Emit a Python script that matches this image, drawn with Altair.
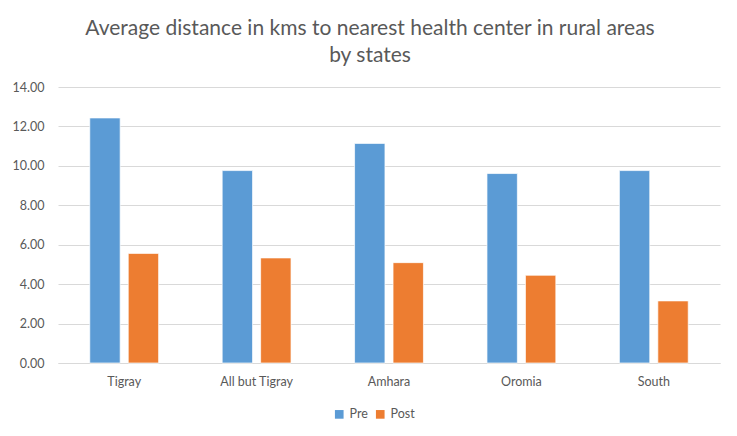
import altair as alt
import pandas as pd

states = ["Tigray", "All but Tigray", "Amhara", "Oromia", "South"]
pre = [12.43, 9.76, 11.14, 9.61, 9.76]
post = [5.56, 5.33, 5.09, 4.45, 3.15]
series = ["Pre", "Post"]
colors = ["#5B9BD5", "#ED7D31"]
y_ticks = [0, 2, 4, 6, 8, 10, 12, 14]

rows = []
for s, a, b in zip(states, pre, post):
    rows.append({"state": s, "period": "Pre", "value": a})
    rows.append({"state": s, "period": "Post", "value": b})
df = pd.DataFrame(rows)

W, H = 662, 276
FONT = "Lato"
GREY = "#595959"

bars = alt.Chart(df).mark_bar(stroke="white", strokeWidth=0.7).encode(
    x=alt.X("state:N", sort=states, title=None,
            scale=alt.Scale(paddingInner=0.48, paddingOuter=0.24),
            axis=alt.Axis(labelAngle=0, labelColor=GREY, labelFontSize=12.5, labelFont=FONT,
                          domain=True, domainColor="#d9d9d9", domainWidth=1.2, ticks=False, labelPadding=12)),
    xOffset=alt.XOffset("period:N", sort=series, scale=alt.Scale(paddingInner=0.21, paddingOuter=0)),
    y=alt.Y("value:Q", title=None,
            scale=alt.Scale(domain=[0, 14], nice=False),
            axis=alt.Axis(values=y_ticks, format=".2f", labelColor=GREY, labelFontSize=12.5, labelFont=FONT,
                          domain=False, ticks=False, labelPadding=14,
                          gridColor="#d9d9d9", gridWidth=1.2)),
    color=alt.Color("period:N", sort=series,
                    scale=alt.Scale(domain=series, range=colors),
                    legend=alt.Legend(title=None, orient="none", direction="horizontal",
                                      legendX=W / 2 - 56, legendY=H + 45,
                                      symbolType="square", symbolSize=75, symbolStrokeWidth=0,
                                      labelFont=FONT, labelFontSize=12.5, labelColor=GREY,
                                      columnPadding=6, labelOffset=4)),
).properties(
    width=W, height=H,
    autosize=alt.AutoSizeParams(type="none"),
    padding={"left": 50, "top": 79, "right": 9, "bottom": 65},
    title=alt.TitleParams(
        text=["Average distance in kms to nearest health center in rural areas", "by states"],
        font=FONT, fontSize=21, fontWeight="normal", color=GREY,
        anchor="middle", frame="group", dx=-19, offset=15, lineHeight=27,
    ),
)

chart = bars.configure_view(stroke=None).configure_axisY(grid=True).configure_axisX(grid=False)

chart.save("out.html", embed_options={"renderer": "svg", "actions": False})
